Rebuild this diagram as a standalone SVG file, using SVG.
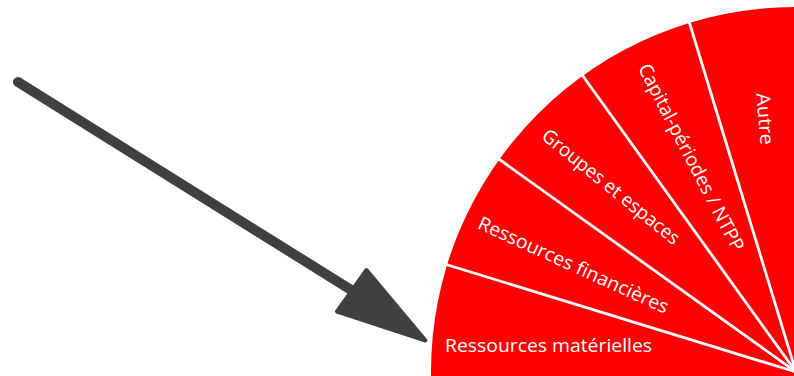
<svg xmlns="http://www.w3.org/2000/svg" width="794" height="376" viewBox="0 0 794 376">
  <style>
    .seg { fill: #FF0000; }
    .sep { stroke: #FFFFFF; stroke-width: 2.8; fill: none; }
    .lbl { fill: #FFFFFF; font-family: "Open Sans", "Liberation Sans", sans-serif; font-size: 19px; text-anchor: middle; }
    .arrow { stroke: #404040; fill: #404040; stroke-linecap: round; stroke-linejoin: round; }
  </style>
  <rect width="794" height="376" fill="#FFFFFF"/>
  <g id="fan">
    <path class="seg" d="M796,372 L431,372 L431,376 L796,376 Z"/>
    <path class="seg" d="M796,372 L431,372 A365,365 0 0 1 796,7 Z"/>
  </g>
  <g id="connectors">
    <line class="sep" x1="796" y1="372" x2="443" y2="263.5"/>
    <line class="sep" x1="796" y1="372" x2="496" y2="157"/>
    <line class="sep" x1="796" y1="372" x2="580" y2="72"/>
    <line class="sep" x1="796" y1="372" x2="688" y2="18"/>
    <g id="arrow" class="arrow">
      <line x1="18" y1="82" x2="356" y2="293" stroke-width="10"/>
      <polygon points="366.5,270 337,311.5 425.5,340.5" stroke-width="4"/>
    </g>
  </g>
  <g id="seg-materielles">
    <text class="lbl" x="548.5" y="352" textLength="207" lengthAdjust="spacingAndGlyphs">Ressources matérielles</text>
  </g>
  <g id="seg-financieres">
    <text class="lbl" transform="translate(570.7,271) rotate(24.5)" textLength="207" lengthAdjust="spacingAndGlyphs">Ressources financières</text>
  </g>
  <g id="seg-groupes">
    <text class="lbl" transform="translate(607,191.8) rotate(38.9)" textLength="171" lengthAdjust="spacingAndGlyphs">Groupes et espaces</text>
  </g>
  <g id="seg-capital">
    <text class="lbl" transform="translate(685.4,160.3) rotate(62.7)" textLength="208" lengthAdjust="spacingAndGlyphs">Capital-périodes / NTPP</text>
  </g>
  <g id="seg-autre">
    <text class="lbl" transform="translate(758.5,119.5) rotate(85.1)" textLength="52" lengthAdjust="spacingAndGlyphs">Autre</text>
  </g>
</svg>
